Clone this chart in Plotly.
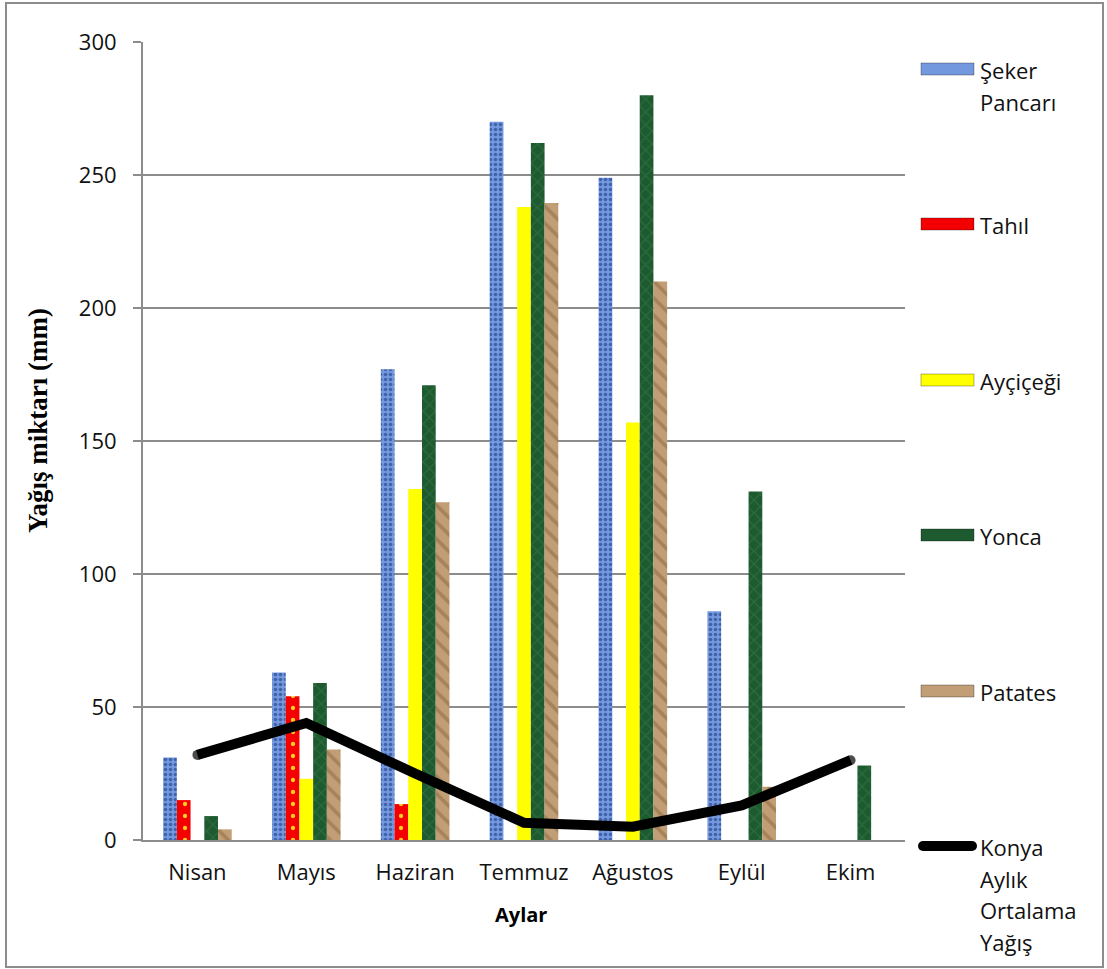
import plotly.graph_objects as go

# Monthly water demand per crop and Konya mean monthly rainfall (mm)
months = ["Nisan", "Mayıs", "Haziran", "Temmuz", "Ağustos", "Eylül", "Ekim"]
seker_pancari = [31, 63, 177, 270, 249, 86, 0]
tahil = [15, 54, 13.5, 0, 0, 0, 0]
aycicegi = [0, 23, 132, 238, 157, 0, 0]
yonca = [9, 59, 171, 262, 280, 131, 28]
patates = [4, 34, 127, 239.5, 210, 20, 0]
konya_yagis = [32, 44, 25, 6.5, 5, 13, 30]

y_ticks = [0, 50, 100, 150, 200, 250, 300]

crop_series = [
    ("Şeker Pancarı", seker_pancari, "#7498DE", "#3F62AA", ".", 5, 0.4),
    ("Tahıl", tahil, "#F50000", "#FFD21E", ".", 12, 0.1),
    ("Ayçiçeği", aycicegi, "#FFFF00", "#FFFF00", "", 8, 0.3),
    ("Yonca", yonca, "#1E5A30", "#2E6C3E", "x", 9, 0.25),
    ("Patates", patates, "#C29E76", "#A6825B", "\\", 12, 0.3),
]

fig = go.Figure()
for name, vals, bg, fg, shape, size, solidity in crop_series:
    fig.add_trace(go.Bar(
        x=months, y=vals, name=name,
        marker=dict(
            color=bg,
            line=dict(width=0),
            pattern=dict(shape=shape, fgcolor=fg, bgcolor=bg, size=size,
                         solidity=solidity, fillmode="replace"),
        ),
        showlegend=False,
    ))

# Rainfall line; round dots at the two ends give it rounded caps
n = len(months)
cap_sizes = [10 if i in (0, n - 1) else 0 for i in range(n)]
fig.add_trace(go.Scatter(
    x=months, y=konya_yagis, mode="lines+markers", name="Konya Aylık Ortalama Yağış",
    line=dict(color="black", width=10, shape="linear"),
    marker=dict(color="black", size=cap_sizes, line=dict(width=0)),
    showlegend=False,
))

# Plot area geometry in pixels (used to place the side legend)
W, H = 1107, 969
L, R, T, B = 143, 202, 42, 129
pw, ph = W - L - R, H - T - B


def px(x):
    return (x - L) / pw


def py(y):
    return (H - B - y) / ph


label_font = dict(family="Open Sans, Noto Sans, sans-serif", size=22, color="#111")

shapes = []
annotations = []

# Side legend: swatch, then one text line per row, spaced evenly down the right
legend_rows = [
    (["Şeker", "Pancarı"], "#7498DE", 69),
    (["Tahıl"], "#F50000", 224),
    (["Ayçiçeği"], "#FFFF00", 380),
    (["Yonca"], "#1E5A30", 535),
    (["Patates"], "#C29E76", 691),
]
LINE_STEP = 31.5
for lines, color, yc in legend_rows:
    shapes.append(dict(type="rect", xref="paper", yref="paper",
                       x0=px(921), x1=px(974), y0=py(yc + 6), y1=py(yc - 6),
                       fillcolor=color, line=dict(color="rgba(0,0,0,0.3)", width=1)))
    for i, t in enumerate(lines):
        annotations.append(dict(xref="paper", yref="paper", x=px(978),
                                y=py(yc + 1 + i * LINE_STEP),
                                xanchor="left", yanchor="middle", align="left",
                                text=t, showarrow=False, font=label_font))

# Rainfall legend swatch: thick line with rounded ends
shapes.append(dict(type="line", xref="paper", yref="paper",
                   x0=px(923), x1=px(972), y0=py(846), y1=py(846),
                   line=dict(color="black", width=10)))
for xe in (923, 972):
    shapes.append(dict(type="circle", xref="paper", yref="paper",
                       x0=px(xe - 5), x1=px(xe + 5), y0=py(851), y1=py(841),
                       fillcolor="black", line=dict(width=0)))
for i, t in enumerate(["Konya", "Aylık", "Ortalama", "Yağış"]):
    annotations.append(dict(xref="paper", yref="paper", x=px(978),
                            y=py(847 + i * LINE_STEP),
                            xanchor="left", yanchor="middle", align="left",
                            text=t, showarrow=False, font=label_font))

# Outer chart frame
shapes.append(dict(type="rect", xref="paper", yref="paper", layer="below",
                   x0=px(6), x1=px(1103), y0=py(967), y1=py(3),
                   line=dict(color="#8C8C8C", width=2), fillcolor="rgba(0,0,0,0)"))

# Axis titles
annotations.append(dict(xref="paper", yref="paper", x=px(38), y=py(421),
                        text="<b>Yağış miktarı (mm)</b>", textangle=-90,
                        showarrow=False, xanchor="center", yanchor="middle",
                        font=dict(family="Liberation Serif, Times New Roman, serif",
                                  size=27, color="black")))
annotations.append(dict(xref="paper", yref="paper", x=px(521), y=py(915),
                        text="<b>Aylar</b>", showarrow=False,
                        xanchor="center", yanchor="middle",
                        font=dict(family="Open Sans, Noto Sans, sans-serif",
                                  size=20, color="black")))

fig.update_layout(
    width=W, height=H,
    margin=dict(l=L, r=R, t=T, b=B, pad=0),
    paper_bgcolor="white", plot_bgcolor="white",
    barmode="group", bargap=0.37, bargroupgap=0,
    shapes=shapes, annotations=annotations,
    font=label_font,
)
fig.update_xaxes(
    type="category", showgrid=False, showline=True, linecolor="#8C8C8C",
    linewidth=2, ticks="", tickfont=label_font, ticklabelstandoff=12,
)
fig.update_yaxes(
    range=[0, 300], tickvals=y_ticks, showgrid=True, gridcolor="#8C8C8C",
    gridwidth=1.5, showline=True, linecolor="#8C8C8C", linewidth=2,
    ticks="outside", ticklen=8, tickcolor="#8C8C8C", tickwidth=2,
    tickfont=label_font, zeroline=False, ticklabelstandoff=12,
)

fig.write_html("out.html")
